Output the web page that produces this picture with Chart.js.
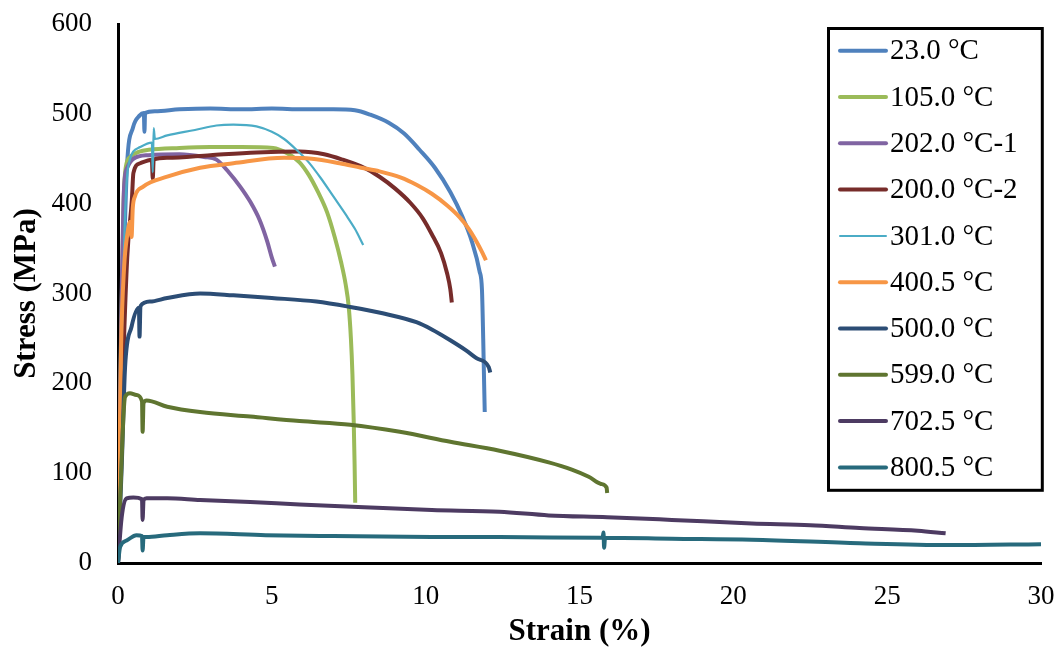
<!DOCTYPE html>
<html>
  <head>
    <title>Stress-strain</title>
    <script src="https://cdn.jsdelivr.net/npm/chart.js"></script>
    <style>
      body { margin: 0; background: #fff; }
      .grafico { width: 1063px; height: 656px; }
    </style>
  </head>

  <body>
    <div class="grafico">
      <canvas id="tensao"></canvas>
    </div>

    <script>
      var labels = ["23.0 °C", "105.0 °C", "202.0 °C-1", "200.0 °C-2", "301.0 °C",
                    "400.5 °C", "500.0 °C", "599.0 °C", "702.5 °C", "800.5 °C"];
      var cores = ["#4F81BD", "#9BBB59", "#8064A2", "#772C2A", "#4BACC6",
                   "#F79646", "#2C4D75", "#5F7530", "#4D3B62", "#276A7C"];

      var xTicks = [0, 5, 10, 15, 20, 25, 30];
      var yTicks = [0, 100, 200, 300, 400, 500, 600];

      // strain (%) / stress (MPa)
      var strain23 = [0, 0.1, 0.16, 0.29, 0.49, 0.7, 0.84, 0.86, 0.88, 1.2, 2, 3, 4, 5, 6, 7, 7.7, 8.2, 8.8, 9.3, 9.8, 10.3, 10.8, 11.2, 11.5, 11.75, 11.83, 11.87, 11.9, 11.92];
      var stress23 = [0, 200, 293, 440, 485, 498, 501, 480, 501, 503, 505, 506, 505, 506, 505, 505, 504, 499, 490, 478, 460, 440, 413, 385, 358, 325, 304, 250, 200, 168];

      var strain105 = [0, 0.1, 0.18, 0.25, 0.4, 0.7, 1, 2, 3, 4, 5.05, 5.5, 5.9, 6.2, 6.5, 6.8, 7.05, 7.25, 7.4, 7.5, 7.57, 7.62, 7.66, 7.69, 7.71];
      var stress105 = [0, 250, 400, 440, 452, 458, 460, 462, 463, 463, 462, 456, 446, 432, 413, 390, 362, 335, 310, 285, 250, 210, 160, 110, 67];

      var strain202 = [0, 0.1, 0.2, 0.3, 0.5, 1, 2, 2.8, 3.2, 3.6, 3.97, 4.3, 4.6, 4.85, 5.0, 5.1];
      var stress202 = [0, 260, 420, 440, 450, 454, 455, 452, 449, 435, 419, 402, 382, 358, 340, 330];

      var strain200 = [0, 0.15, 0.3, 0.45, 0.5, 0.72, 1.1, 1.13, 1.16, 1.6, 3, 4.5, 5.9, 6.7, 7.3, 8.0, 8.5, 9.0, 9.5, 9.9, 10.2, 10.5, 10.7, 10.8, 10.85];
      var stress200 = [0, 200, 340, 404, 434, 445, 449, 428, 449, 451, 454, 457, 458, 455, 449, 440, 430, 417, 401, 384, 366, 345, 322, 305, 290];

      var strain301 = [0, 0.12, 0.22, 0.33, 0.72, 1.1, 1.13, 1.16, 1.2, 1.6, 2.5, 3.2, 3.75, 4.5, 5.0, 5.4, 5.8, 6.2, 6.6, 7.0, 7.4, 7.7, 7.97];
      var stress301 = [0, 250, 380, 441, 463, 468, 435, 484, 472, 476, 482, 487, 488, 486, 480, 472, 460, 446, 428, 408, 388, 372, 354];

      var strain400 = [0, 0.1, 0.2, 0.3, 0.4, 0.44, 0.48, 0.55, 0.82, 1.6, 2.67, 3.75, 5.4, 6.3, 7.2, 7.9, 8.5, 9.2, 9.7, 10.2, 10.7, 11.1, 11.4, 11.65, 11.85, 11.96];
      var stress400 = [0, 240, 330, 365, 380, 363, 395, 408, 419, 430, 440, 445, 451, 450, 445, 440, 436, 429, 421, 411, 398, 385, 372, 358, 345, 337];

      var strain500 = [0, 0.12, 0.23, 0.44, 0.68, 0.7, 0.73, 1.04, 1.6, 2.67, 3.75, 5.0, 6.45, 7.55, 8.6, 9.7, 10.2, 10.8, 11.3, 11.65, 12.05, 12.1];
      var stress500 = [0, 107, 218, 263, 284, 252, 286, 291, 295, 300, 298, 295, 291, 285, 278, 268, 260, 248, 237, 228, 218, 212];

      var strain599 = [0, 0.07, 0.23, 0.39, 0.6, 0.78, 0.8, 0.83, 0.93, 1.6, 2.67, 4.3, 5.9, 7.55, 9.16, 10.8, 12.4, 14.0, 14.75, 15.3, 15.7, 15.88, 15.9];
      var stress599 = [0, 70, 185, 189, 187, 180, 146, 178, 181, 174, 168, 163, 158, 154, 146, 135, 125, 112, 104, 96, 88, 84, 78];

      var strain702 = [0, 0.12, 0.28, 0.5, 0.78, 0.8, 0.83, 0.93, 1.6, 2.67, 4.3, 5.9, 8, 10.2, 12.4, 14.0, 15.9, 18, 20.6, 22.5, 24.1, 26, 26.9];
      var stress702 = [0, 51, 72, 73, 71, 48, 70, 72, 72, 70, 68, 65, 62, 59, 57, 53, 51, 48, 44, 42, 39, 36, 33];

      var strain800 = [0, 0.07, 0.28, 0.6, 0.78, 0.8, 0.83, 0.93, 1.6, 2.67, 4.8, 7, 10.2, 12.4, 15.75, 15.78, 15.8, 15.83, 18, 20.6, 24.1, 27, 30];
      var stress800 = [0, 18, 25, 31, 30, 14, 29, 29, 31, 33, 31, 30, 29, 29, 28, 34, 17, 28, 27, 26, 22, 20, 21];

      var strains = [strain23, strain105, strain202, strain200, strain301, strain400, strain500, strain599, strain702, strain800];
      var stresses = [stress23, stress105, stress202, stress200, stress301, stress400, stress500, stress599, stress702, stress800];

      var fonte = "'Liberation Serif', 'Times New Roman', serif";

      var datasets = labels.map(function (nome, i) {
        return {
          label: nome,
          data: strains[i].map(function (x, j) { return { x: x, y: stresses[i][j] }; }),
          borderColor: cores[i],
          backgroundColor: cores[i],
          borderWidth: i == 4 ? 2.2 : 4,
          pointRadius: 0,
          showLine: true,
          cubicInterpolationMode: "monotone",
          order: labels.length - i,
        };
      });

      // legenda desenhada dentro da area do grafico
      var legendaBox = {
        id: "legendaBox",
        afterDraw: function (chart) {
          var ctx = chart.ctx;
          ctx.save();
          ctx.fillStyle = "#fff";
          ctx.fillRect(828.5, 28.5, 213.8, 461.8);
          ctx.strokeStyle = "#000";
          ctx.lineWidth = 3;
          ctx.strokeRect(828.5, 28.5, 213.8, 461.8);
          ctx.font = "29px " + fonte;
          ctx.textBaseline = "middle";
          ctx.textAlign = "left";
          chart.data.datasets.forEach(function (ds, i) {
            var y = 50.7 + i * 46.3;
            ctx.strokeStyle = ds.borderColor;
            ctx.lineWidth = i == 4 ? 2 : 4;
            ctx.lineCap = "round";
            ctx.beginPath();
            ctx.moveTo(840, y);
            ctx.lineTo(886, y);
            ctx.stroke();
            ctx.fillStyle = "#000";
            ctx.fillText(ds.label, 890, y + 1);
          });
          ctx.restore();
        },
      };

      function semPadding(s) {
        s.paddingTop = 0;
        s.paddingBottom = 0;
        s.paddingLeft = 0;
        s.paddingRight = 0;
      }

      var grafico = new Chart(document.getElementById("tensao").getContext("2d"), {
        type: "scatter",
        data: { datasets: datasets },
        plugins: [legendaBox],
        options: {
          responsive: true,
          maintainAspectRatio: false,
          animation: false,
          layout: { padding: { top: 24, right: 22, left: 0, bottom: 0 } },
          plugins: {
            legend: { display: false },
            tooltip: { enabled: false },
          },
          scales: {
            x: {
              type: "linear",
              min: 0,
              max: 30,
              afterFit: function (s) { s.height = 93; semPadding(s); },
              afterBuildTicks: function (s) { s.ticks = xTicks.map(function (v) { return { value: v }; }); },
              grid: { display: false, drawTicks: false },
              border: { display: true, color: "#000", width: 3 },
              ticks: { color: "#000", padding: 18, font: { family: fonte, size: 27 } },
              title: {
                display: true,
                text: "Strain (%)",
                color: "#000",
                padding: { top: 0, bottom: 5 },
                font: { family: fonte, size: 31, weight: "bold" },
              },
            },
            y: {
              type: "linear",
              min: 0,
              max: 600,
              afterFit: function (s) { s.width = 118; semPadding(s); },
              afterBuildTicks: function (s) { s.ticks = yTicks.map(function (v) { return { value: v }; }); },
              grid: { display: false, drawTicks: false },
              border: { display: true, color: "#000", width: 3 },
              ticks: { color: "#000", padding: 26, font: { family: fonte, size: 27 } },
              title: {
                display: true,
                text: "Stress (MPa)",
                color: "#000",
                padding: { top: 8, bottom: 0 },
                font: { family: fonte, size: 31, weight: "bold" },
              },
            },
          },
        },
      });
    </script>
  </body>
</html>
